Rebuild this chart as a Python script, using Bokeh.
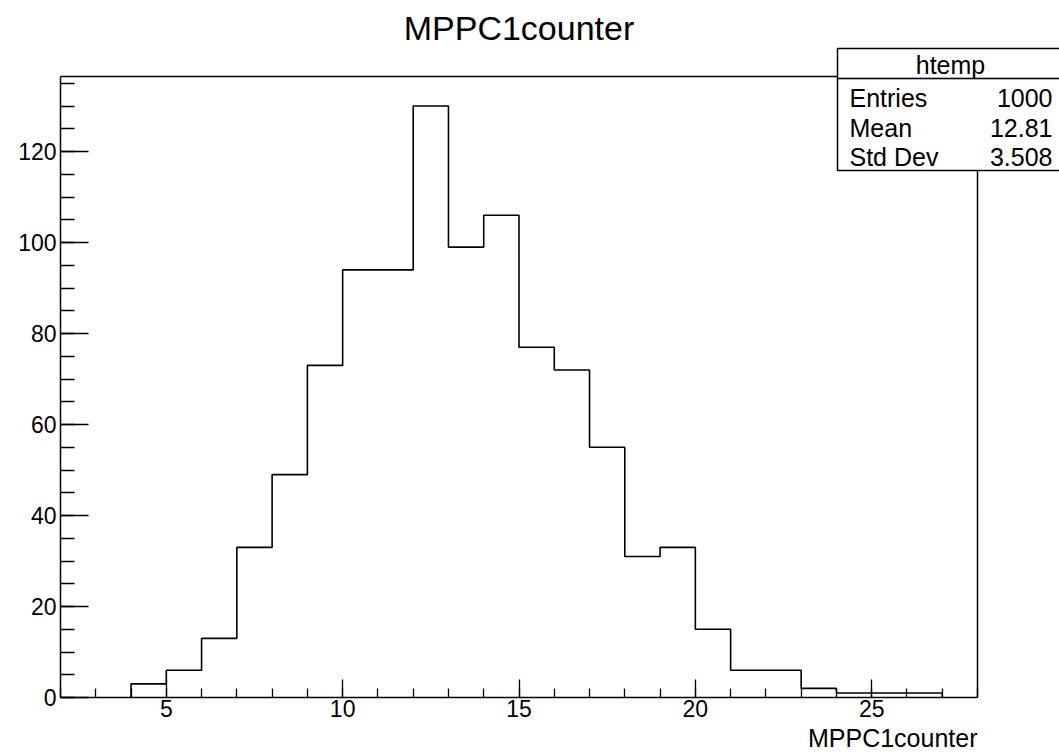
from bokeh.plotting import figure
from bokeh.models import Label, BoxAnnotation, SingleIntervalTicker, Title
from bokeh.embed import file_html
from bokeh.resources import INLINE

# ---- data ----
bin_low = [4, 5, 6, 7, 8, 9, 10, 11, 12, 13, 14, 15, 16, 17, 18, 19, 20, 21, 22, 23, 24, 25, 26]
counts = [3, 6, 13, 33, 49, 73, 94, 94, 130, 99, 106, 77, 72, 55, 31, 33, 15, 6, 6, 2, 1, 1, 1]
bin_width = 1
x_axis_range = [2, 28]
y_axis_range = [0, 136.5]
stats_title = "htemp"
stats_names = ["Entries", "Mean", "Std Dev"]
stats_values = ["1000", "12.81", "3.508"]
title_text = "MPPC1counter"
xlabel_text = "MPPC1counter"

FONT = "Liberation Sans"
W, H = 1059, 753
# pixel box of the drawn histogram frame
FL, FR, FT, FB = 60, 977, 76, 697
ppx = (FR - FL) / (x_axis_range[1] - x_axis_range[0])
ppy = (FB - FT) / (y_axis_range[1] - y_axis_range[0])
# plotting frame extends to right and top canvas edges so the stats box and title are not clipped
x_end = x_axis_range[0] + (W - FL) / ppx
y_end = y_axis_range[0] + FB / ppy

p = figure(width=W, height=H, x_range=(x_axis_range[0], x_end), y_range=(y_axis_range[0], y_end),
           output_backend="svg", toolbar_location=None, title=None,
           min_border_left=FL, min_border_right=0, min_border_top=0, min_border_bottom=H - FB)
p.background_fill_color = "white"
p.border_fill_color = "white"
p.outline_line_color = None
p.grid.visible = False

# histogram outline path built from bins
xs = [bin_low[0]]
ys = [0]
for lo, c in zip(bin_low, counts):
    xs += [lo, lo + bin_width]
    ys += [c, c]
xs.append(bin_low[-1] + bin_width)
ys.append(0)
p.line(xs, ys, line_color="black", line_width=1.6)

# top and right sides of the histogram frame
p.line([x_axis_range[0], x_axis_range[1], x_axis_range[1]],
       [y_axis_range[1], y_axis_range[1], y_axis_range[0]],
       line_color="black", line_width=1.5)

# axes
xa = p.xaxis[0]
xa.ticker = SingleIntervalTicker(interval=5, num_minor_ticks=5)
xa.bounds = tuple(x_axis_range)
xa.major_tick_in = 18
xa.major_tick_out = 0
xa.minor_tick_in = 9
xa.minor_tick_out = 0
xa.major_label_standoff = 2
ya = p.yaxis[0]
ya.ticker = SingleIntervalTicker(interval=20, num_minor_ticks=4)
ya.bounds = tuple(y_axis_range)
ya.major_tick_in = 28
ya.major_tick_out = 0
ya.minor_tick_in = 14
ya.minor_tick_out = 0
ya.major_label_standoff = 4
for ax in (xa, ya):
    ax.axis_line_color = "black"
    ax.axis_line_width = 1.5
    ax.major_tick_line_color = "black"
    ax.minor_tick_line_color = "black"
    ax.major_tick_line_width = 1.3
    ax.minor_tick_line_width = 1.3
    ax.major_label_text_font = FONT
    ax.major_label_text_font_size = "23px"
    ax.major_label_text_color = "black"

# x axis title, right-aligned at the end of the axis
p.add_layout(Title(text=xlabel_text, align="right", offset=W - FR, standoff=4,
                   text_font=FONT, text_font_size="25px", text_font_style="normal",
                   text_color="black"), "below")

# title
p.add_layout(Label(x=(FL + FR) / 2 - FL, y=FB - 27, x_units="screen", y_units="screen",
                   text=title_text, text_font=FONT, text_font_size="34px",
                   text_align="center", text_baseline="middle", text_color="black"))

# stats box (frame-relative screen units)
bx_l, bx_r, bx_t, bx_b, bx_sep = 837, 1070, 48, 170, 78
p.add_layout(BoxAnnotation(left=bx_l - FL, right=bx_r - FL, top=FB - bx_t, bottom=FB - bx_b,
                           left_units="screen", right_units="screen",
                           top_units="screen", bottom_units="screen",
                           fill_color="white", fill_alpha=1.0,
                           line_color="black", line_alpha=1.0, line_width=1.5, level="overlay"))
p.add_layout(BoxAnnotation(left=bx_l - FL, right=bx_r - FL, top=FB - bx_sep + 0.6, bottom=FB - bx_sep - 0.6,
                           left_units="screen", right_units="screen",
                           top_units="screen", bottom_units="screen",
                           fill_color="black", fill_alpha=1.0,
                           line_color="black", line_alpha=1.0, line_width=0.5, level="overlay"))
p.add_layout(Label(x=950 - FL, y=FB - 64, x_units="screen", y_units="screen", text=stats_title,
                   text_font=FONT, text_font_size="25px", text_align="center",
                   text_baseline="middle", text_color="black", level="overlay"))
row_y = [97, 127, 156]
for name, val, yy in zip(stats_names, stats_values, row_y):
    p.add_layout(Label(x=849 - FL, y=FB - yy, x_units="screen", y_units="screen", text=name,
                       text_font=FONT, text_font_size="25px", text_align="left",
                       text_baseline="middle", text_color="black", level="overlay"))
    p.add_layout(Label(x=1052 - FL, y=FB - yy, x_units="screen", y_units="screen", text=val,
                       text_font=FONT, text_font_size="25px", text_align="right",
                       text_baseline="middle", text_color="black", level="overlay"))

open("out.html", "w").write(file_html(p, INLINE))
